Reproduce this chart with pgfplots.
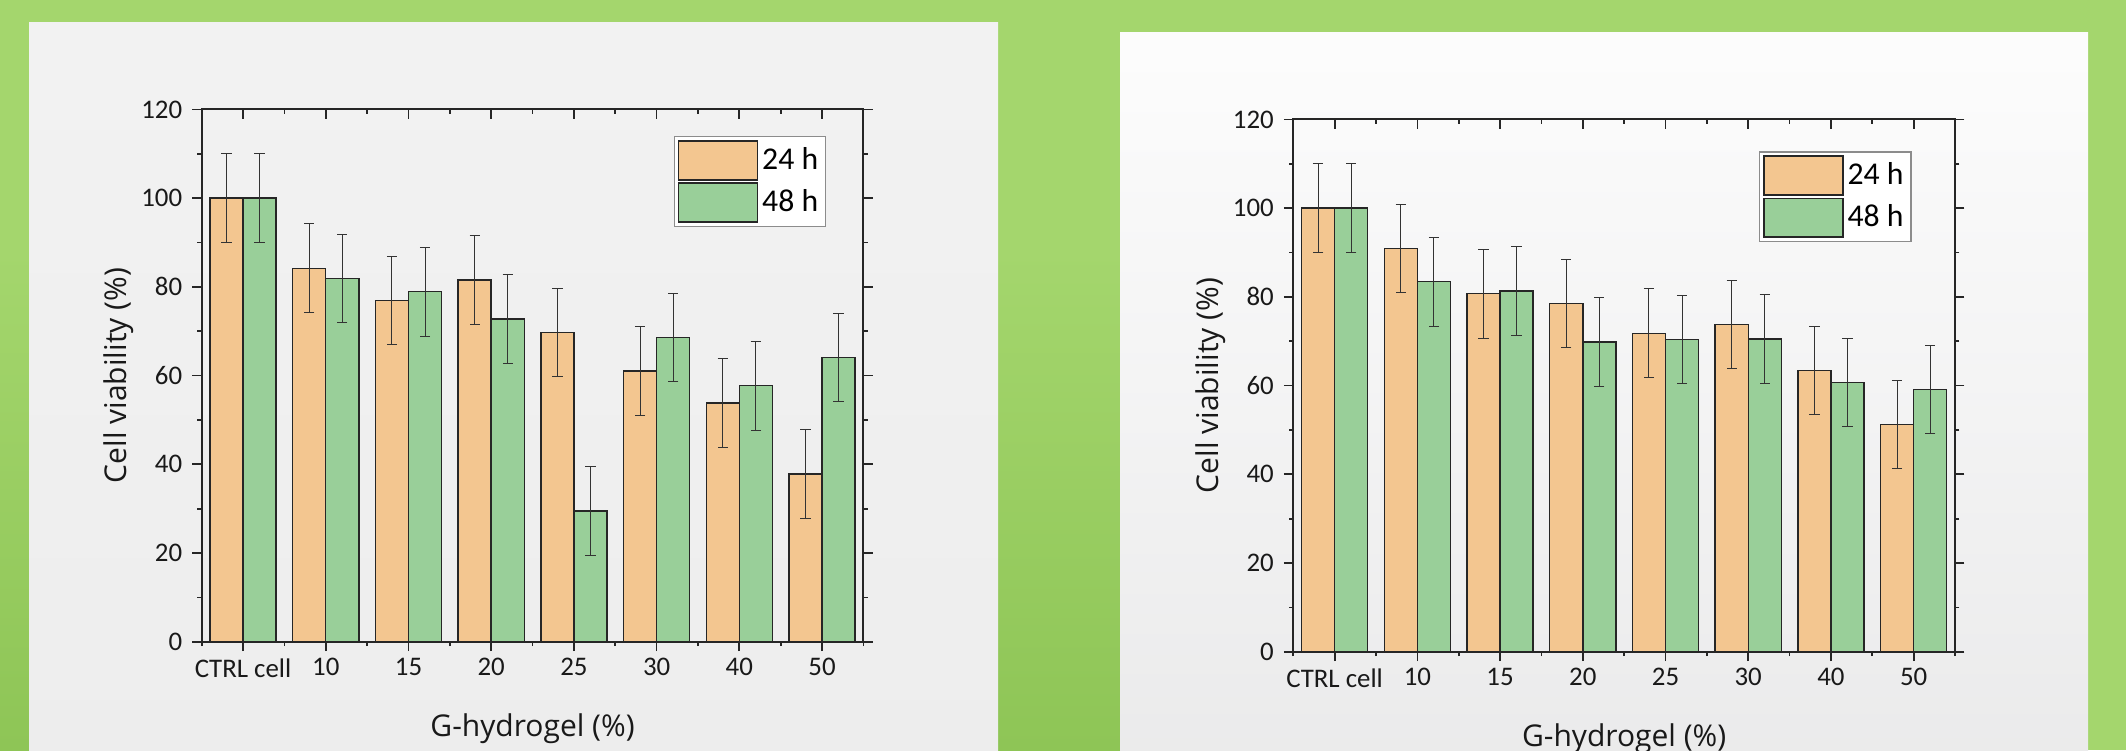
\documentclass[border=0pt]{standalone}
\usepackage{pgfplots}
\pgfplotsset{compat=1.18}
\usepackage{pgfplotstable}
\usepackage{fontspec}
\setmainfont{Carlito}
\newfontfamily\labfont{Open Sans}
\definecolor{bggreen}{HTML}{A4D66D}
\definecolor{bggreendk}{HTML}{8EC556}
\definecolor{c24}{HTML}{F3C690}
\definecolor{c48}{HTML}{99CF99}

\pgfplotstableread{
x y24 e24 y48 e48
0 100  10 100  10
1 84.2 10 81.9 10
2 76.9 10 78.9 10
3 81.5 10 72.8 10
4 69.7 10 29.5 10
5 61.0 10 68.6 10
6 53.8 10 57.7 10
7 37.8 10 64.1 10
}\dataA

\pgfplotstableread{
x y24 e24 y48 e48
0 100  10 100  10
1 90.9 10 83.4 10
2 80.7 10 81.3 10
3 78.5 10 69.8 10
4 71.8 10 70.4 10
5 73.8 10 70.5 10
6 63.4 10 60.7 10
7 51.2 10 59.1 10
}\dataB

\pgfplotsset{
  myax/.style={
    scale only axis, width=231.6pt, height=186.3pt,
    anchor=south west,
    xmin=-0.5, xmax=7.5, ymin=0, ymax=120,
    axis line style={line width=0.7pt, black!85},
    every tick/.style={line width=0.6pt, black!85},
    major tick length=3.3pt, minor tick length=1.5pt,
    tick align=outside,
    xtick={0,...,7}, xticklabels={CTRL cell,10,15,20,25,30,40,50},
    minor xtick={-0.5,0.5,...,7.5},
    xtick pos=bottom,
    ytick={0,20,...,120}, minor ytick={10,30,...,110},
    ytick pos=both,
    /pgf/number format/assume math mode=true,
    tick label style={font=\fontsize{9.4}{10}\selectfont, text=black!90},
    xticklabel style={yshift=1pt},
    label style={font=\labfont\fontsize{10.5}{12}\selectfont, text=black!90},
    xlabel={G-hydrogel (\%)}, ylabel={Cell viability (\%)},
    xlabel style={at={(axis description cs:0.5,-0.179)}, anchor=base},
    ylabel style={at={(axis description cs:-0.125,0.5)}, anchor=center},
    legend cell align=left,
    legend style={anchor=north east, draw=black!45, line width=0.5pt, fill=white,
      inner sep=1.2pt, row sep=0.6pt,
      font=\fontsize{11.1}{12}\selectfont,
      nodes={inner sep=1.4pt}},
  },
  topax/.style={
    scale only axis, width=231.6pt, height=186.3pt,
    anchor=south west,
    xmin=-0.5, xmax=7.5, ymin=0, ymax=120,
    axis line style={draw=none},
    every tick/.style={line width=0.6pt, black!85},
    major tick length=3.2pt, minor tick length=1.5pt,
    xtick={0,...,7}, xticklabels={},
    minor xtick={-0.5,0.5,...,7.5},
    xtick pos=top, xtick align=inside,
    ytick=\empty,
  },
  ebars/.style={
    error bars/.cd, y dir=both, y explicit,
    error bar style={line width=0.35pt, black!80},
    error mark options={rotate=90, mark size=1.8pt, line width=0.35pt, black!80}},
  b24/.style={ybar, bar width=0.4, bar shift=0pt, fill=c24, draw=black!85, line width=0.5pt,
    legend image code/.code={\draw[fill=c24, draw=black!85, line width=0.6pt] (0pt,-6.8pt) rectangle (27.6pt,6.8pt);},
    ebars},
  b48/.style={ybar, bar width=0.4, bar shift=0pt, fill=c48, draw=black!85, line width=0.5pt,
    legend image code/.code={\draw[fill=c48, draw=black!85, line width=0.6pt] (0pt,-6.8pt) rectangle (27.6pt,6.8pt);},
    ebars},
}

\begin{document}
\begin{tikzpicture}
\useasboundingbox (0pt,0pt) rectangle (744.1pt,262.5pt);
\clip (0pt,0pt) rectangle (744.1pt,262.5pt);
% background (1 px of the reference = 0.35pt)
\fill[bggreen] (0pt,0pt) rectangle (744.1pt,262.5pt);
\shade[top color=bggreen, bottom color=bggreendk] (0pt,0pt) rectangle (10.2pt,175pt);
\shade[top color=bggreen, bottom color=bggreendk] (349.3pt,0pt) rectangle (392pt,175pt);
\shade[top color=black!5, bottom color=black!7] (10.15pt,0pt) rectangle (349.3pt,254.45pt);
\shade[top color=white!99!black, bottom color=blue!3!black!8] (392pt,0pt) rectangle (730.8pt,250.95pt);

% left chart
\begin{axis}[myax, at={(70.6pt,37.9pt)},
  legend style={at={(0.944,0.95)}}]
\addplot[b24] table[x expr=\thisrow{x}-0.2, y=y24, y error=e24] {\dataA};
\addplot[b48] table[x expr=\thisrow{x}+0.2, y=y48, y error=e48] {\dataA};
\legend{24 h, 48 h}
\end{axis}
\begin{axis}[topax, at={(70.6pt,37.9pt)}]
\end{axis}

% right chart
\begin{axis}[myax, at={(452.65pt,34.4pt)},
  legend style={at={(0.9345,0.9405)}}]
\addplot[b24] table[x expr=\thisrow{x}-0.2, y=y24, y error=e24] {\dataB};
\addplot[b48] table[x expr=\thisrow{x}+0.2, y=y48, y error=e48] {\dataB};
\legend{24 h, 48 h}
\end{axis}
\begin{axis}[topax, at={(452.65pt,34.4pt)}]
\end{axis}
\end{tikzpicture}
\end{document}
